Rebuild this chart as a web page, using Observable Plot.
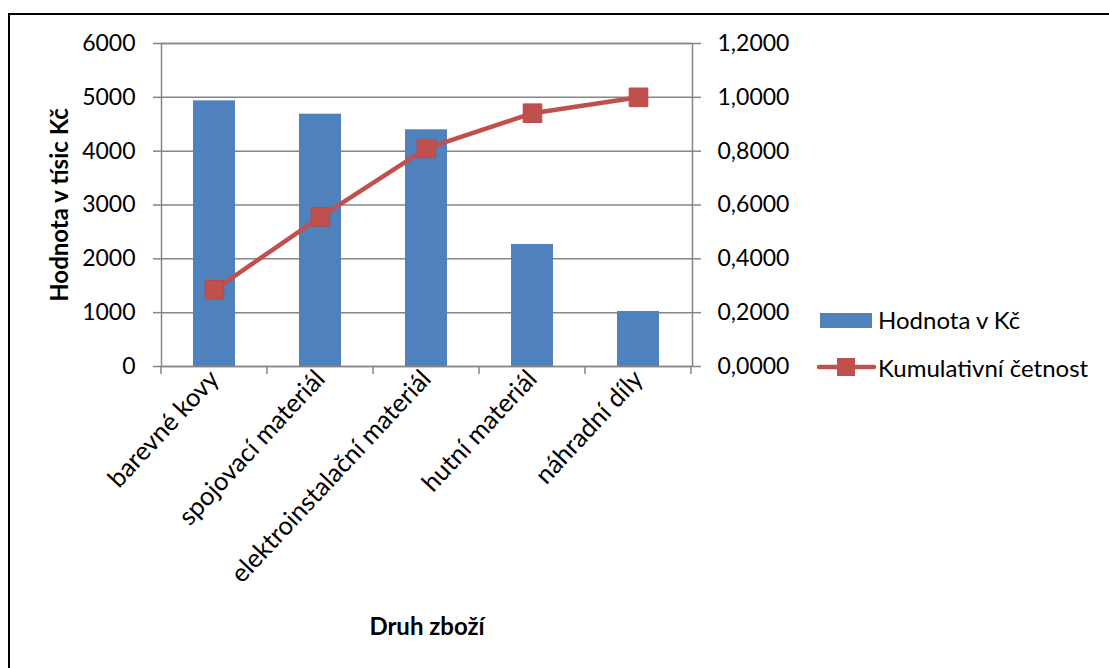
<!DOCTYPE html>
<html>
<head>
<meta charset="utf-8">
<script src="https://cdn.jsdelivr.net/npm/d3@7"></script>
<script src="https://cdn.jsdelivr.net/npm/@observablehq/plot@0.6"></script>
<style>
  html, body { margin: 0; padding: 0; background: #fff; }
  #wrap { position: relative; width: 1109px; height: 668px; overflow: hidden; font-family: Lato, "Open Sans", sans-serif; }
  #border { position: absolute; left: 8px; top: 13px; width: 1200px; height: 800px; border-left: 2px solid #000; border-top: 2px solid #000; pointer-events: none; }
  #chart { position: absolute; left: 0; top: 0; }
  #chart svg { font-family: Lato, "Open Sans", sans-serif; }
  #chart [aria-label="y-axis label"], #chart [aria-label="x-axis label"] { font-weight: bold; font-size: 24px; }
  #chart [aria-label="x-axis tick label"] { font-size: 25.5px; }
  .leg { position: absolute; font-size: 24px; color: #000; line-height: 1; white-space: nowrap; }
</style>
</head>
<body>
<div id="wrap">
  <div id="chart"></div>
  <div id="border"></div>
  <div id="legend"></div>
</div>
<script>
// ---- data ----
const categories = ["barevné kovy", "spojovací materiál", "elektroinstalační materiál", "hutní materiál", "náhradní díly"];
const values = [4935, 4687, 4397, 2266, 1022];            // Hodnota v tísic Kč
const cumulative = [0.285, 0.556, 0.810, 0.941, 1.0];     // Kumulativní četnost
const leftTicks = [0, 1000, 2000, 3000, 4000, 5000, 6000];
const rightTicks = [0, 0.2, 0.4, 0.6, 0.8, 1.0, 1.2];
const rightTickLabels = ["0,0000", "0,2000", "0,4000", "0,6000", "0,8000", "1,0000", "1,2000"];
const seriesNames = ["Hodnota v Kč", "Kumulativní četnost"];

const leftMax = 6000, rightMax = 1.2;
const toLeft = v => v / rightMax * leftMax;

const blue = "#4F81BD", red = "#C0504D", grid = "#868686";

const data = categories.map((c, i) => ({cat: c, value: values[i], cum: cumulative[i]}));

const plot = Plot.plot({
  width: 1109,
  height: 668,
  marginLeft: 161,
  marginRight: 417,
  marginTop: 43,
  marginBottom: 302,
  style: {fontSize: "23px", fontFamily: "Lato, 'Open Sans', sans-serif", color: "#000", background: "transparent"},
  x: {domain: categories, paddingInner: 0.6, paddingOuter: 0.3},
  y: {domain: [0, leftMax]},
  marks: [
    Plot.gridY(leftTicks, {stroke: grid, strokeOpacity: 1, strokeWidth: 1.5}),
    Plot.barY(data, {x: "cat", y: "value", fill: blue}),
    Plot.frame({stroke: grid, strokeWidth: 1.5}),
    Plot.axisY(leftTicks, {anchor: "left", tickSize: 8, tickPadding: 18, stroke: grid, strokeWidth: 1.5,
      tickFormat: d => String(d), label: "Hodnota v tísic Kč", labelAnchor: "center", labelOffset: 111, labelArrow: "none"}),
    Plot.axisY(rightTicks.map(toLeft), {anchor: "right", tickSize: 8, tickPadding: 17, stroke: grid, strokeWidth: 1.5,
      tickFormat: d => rightTickLabels[rightTicks.map(toLeft).indexOf(d)], label: null}),
    Plot.axisX({anchor: "bottom", tickSize: 0, tickPadding: 8, tickRotate: -47,
      label: "Druh zboží", labelAnchor: "center", labelOffset: 268, labelArrow: "none"}),
    Plot.line(data, {x: "cat", y: d => toLeft(d.cum), stroke: red, strokeWidth: 4.5}),
    Plot.dot(data, {x: "cat", y: d => toLeft(d.cum), symbol: "square", r: 10.5, fill: red, stroke: "#B84A47", strokeWidth: 1})
  ]
});
document.getElementById("chart").appendChild(plot);

// bottom category-boundary ticks, placed from Plot's own x scale
const xs = plot.scale("x");
const ys = plot.scale("y");
const y0 = ys.apply(0);
const edges = categories.map(c => xs.apply(c) - (xs.step - xs.bandwidth) / 2);
edges.push(xs.apply(categories[categories.length - 1]) + xs.bandwidth + (xs.step - xs.bandwidth) / 2);
d3.select(plot).append("g").attr("aria-label", "x-edge-ticks")
  .selectAll("line").data(edges).join("line")
  .attr("x1", d => d).attr("x2", d => d)
  .attr("y1", y0).attr("y2", y0 + 8)
  .attr("stroke", grid).attr("stroke-width", 1.5);

// legend
const leg = document.getElementById("legend");
leg.innerHTML = `
  <div style="position:absolute;left:820px;top:313px;width:52px;height:15px;background:${blue}"></div>
  <div class="leg" style="left:878px;top:308px">${seriesNames[0]}</div>
  <svg style="position:absolute;left:815px;top:355px" width="64" height="24">
    <line x1="4" x2="59" y1="12" y2="12" stroke="${red}" stroke-width="4.5" stroke-linecap="round"/>
    <rect x="22" y="3" width="18" height="18" fill="${red}"/>
  </svg>
  <div class="leg" style="left:878px;top:356px">${seriesNames[1]}</div>
`;
</script>
</body>
</html>
